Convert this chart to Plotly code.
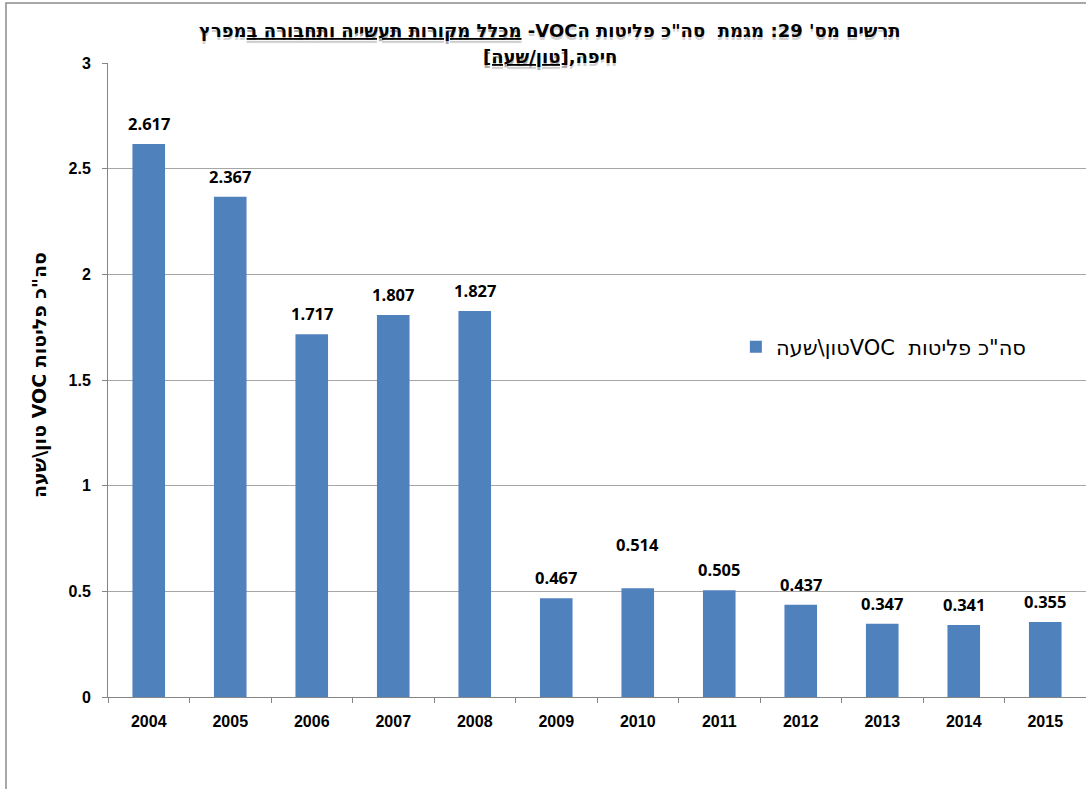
import plotly.graph_objects as go

# Annual totals of VOC emissions (ton/hour)
years = ["2004", "2005", "2006", "2007", "2008", "2009", "2010",
         "2011", "2012", "2013", "2014", "2015"]
voc_emissions = [2.617, 2.367, 1.717, 1.807, 1.827, 0.467, 0.514,
                 0.505, 0.437, 0.347, 0.341, 0.355]
label_offsets = [7, 7, 7, 7, 7, 7, 30, 7, 7, 7, 7, 7]

series_name = 'סה"כ פליטות  VOCטון\\שעה'
title_line1 = ('תרשים מס\' 29: מגמת  סה"כ פליטות הVOC- '
               '<u>מכלל מקורות תעשייה ותחבורה ב</u>מפרץ')
title_line2 = 'חיפה,<u>[טון/שעה]</u>'
y_title = 'סה"כ פליטות VOC טון\\שעה'

RLE, PDF = "\u202B", "\u202C"


def rtl(s):
    return RLE + s + PDF


def rtl_rich(s):
    # keep the embedding marks in their own spans so styled runs stay intact
    return "<span>" + RLE + "</span>" + s + "<span>" + PDF + "</span>"


BAR = "#4F81BD"
GRID = "#A6A6A6"
HEB = "DejaVu Sans"

fig = go.Figure()
fig.add_trace(go.Bar(
    x=years, y=voc_emissions, width=0.4,
    marker=dict(color=BAR, line=dict(width=0)),
    name=rtl(series_name), showlegend=True,
))

annotations = []
for i, (v, off) in enumerate(zip(voc_emissions, label_offsets)):
    annotations.append(dict(
        x=i, y=v, xref="x", yref="y", text=f"{v:.3f}",
        showarrow=False, yanchor="bottom", yshift=off,
        font=dict(family="Open Sans, Liberation Sans", size=16.5,
                  color="#000", weight="bold"),
    ))

# Title: a soft grey drop shadow drawn underneath, then the black text
for line, ypos in ((title_line1, 1.052), (title_line2, 1.0095)):
    annotations.append(dict(
        x=0.452, y=ypos, xref="paper", yref="paper", showarrow=False,
        xanchor="center", yanchor="middle", yshift=-3,
        text=rtl_rich(line),
        font=dict(family=HEB, size=18, color="rgba(0,0,0,0.16)",
                  weight="bold", shadow="0px 0px 2px rgba(0,0,0,0.25)"),
    ))
    annotations.append(dict(
        x=0.452, y=ypos, xref="paper", yref="paper", showarrow=False,
        xanchor="center", yanchor="middle",
        text=rtl_rich(line),
        font=dict(family=HEB, size=18, color="#000", weight="bold"),
    ))

annotations.append(dict(
    x=-0.0695, y=0.508, xref="paper", yref="paper", showarrow=False,
    xanchor="center", yanchor="middle", textangle=-90,
    text=rtl(y_title),
    font=dict(family=HEB, size=19, color="#000", weight="bold"),
))

fig.update_layout(
    width=1086, height=789,
    margin=dict(l=108, r=0, t=63, b=92),
    paper_bgcolor="white", plot_bgcolor="white",
    annotations=annotations,
    legend=dict(
        x=0.642, y=0.552, xanchor="left", yanchor="middle",
        font=dict(family=HEB, size=21, color="#000"),
        bgcolor="rgba(0,0,0,0)",
    ),
    shapes=[dict(
        type="rect", xref="paper", yref="paper",
        x0=-0.1043, x1=1.05, y0=-0.2, y1=1.0946,
        line=dict(color="#8C8C8C", width=1.5), layer="below",
    )],
    xaxis=dict(
        type="category", tickson="boundaries", ticks="outside", ticklen=5,
        tickcolor="#868686", showline=True, linecolor="#868686", linewidth=1,
        showgrid=False, tickangle=0, ticklabelstandoff=10,
        tickfont=dict(family="Liberation Sans, Arial", size=16,
                      color="#000", weight="bold"),
    ),
    yaxis=dict(
        range=[0, 3], tickvals=[0, 0.5, 1, 1.5, 2, 2.5, 3],
        ticktext=["0", "0.5", "1", "1.5", "2", "2.5", "3"],
        ticks="outside", ticklen=5, tickcolor="#868686",
        showline=True, linecolor="#868686", linewidth=1,
        showgrid=True, gridcolor=GRID, gridwidth=1, zeroline=False,
        tickfont=dict(family="Liberation Sans, Arial", size=16,
                      color="#000", weight="bold"),
        ticklabelstandoff=8,
    ),
)

fig.write_html("out.html")
